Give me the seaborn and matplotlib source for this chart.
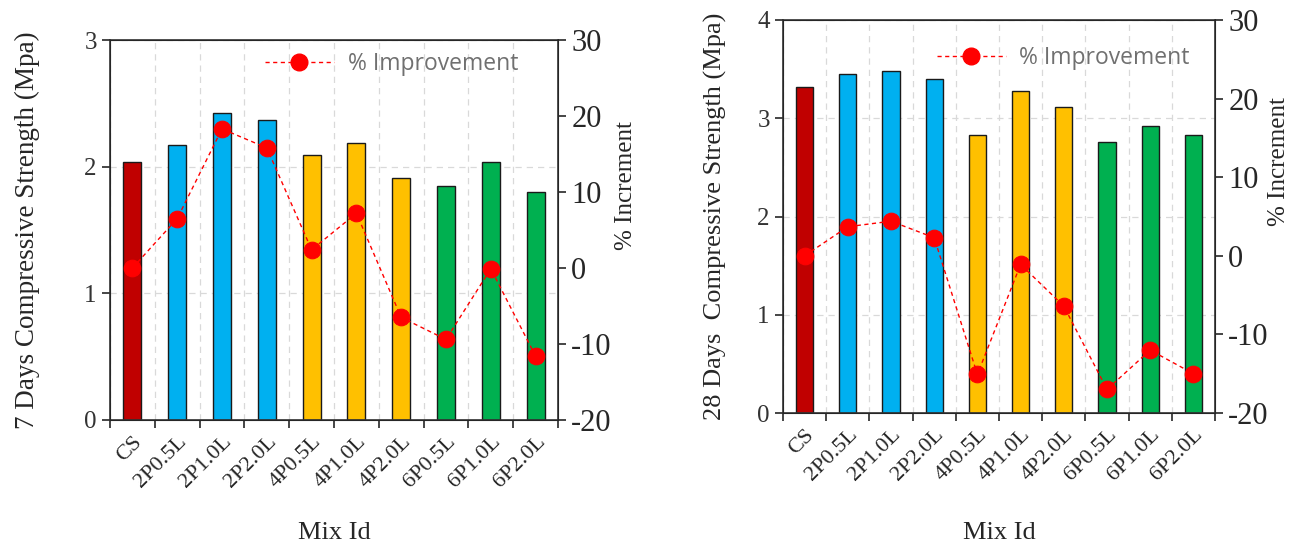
import numpy as np
import pandas as pd
import matplotlib
matplotlib.use('Agg')
import matplotlib.pyplot as plt
from matplotlib.lines import Line2D
import seaborn as sns

# datos
mix_id = ['CS', '2P0.5L', '2P1.0L', '2P2.0L', '4P0.5L', '4P1.0L', '4P2.0L',
          '6P0.5L', '6P1.0L', '6P2.0L']
grupo = ['CS', '2P', '2P', '2P', '4P', '4P', '4P', '6P', '6P', '6P']
strength_7d = [2.04, 2.17, 2.42, 2.37, 2.09, 2.19, 1.91, 1.85, 2.04, 1.80]
improve_7d = [0.0, 6.5, 18.3, 15.8, 2.4, 7.2, -6.5, -9.4, -0.1, -11.6]
strength_28d = [3.32, 3.45, 3.48, 3.40, 2.83, 3.28, 3.11, 2.76, 2.92, 2.83]
improve_28d = [0.0, 3.7, 4.4, 2.3, -15.1, -1.1, -6.4, -17.0, -12.0, -15.0]

colores = {'CS': '#C00000', '2P': '#00B0F0', '4P': '#FFC000', '6P': '#00B050'}

sns.set_style('white')
plt.rcParams['font.family'] = ['Liberation Serif', 'DejaVu Serif']
plt.rcParams['axes.unicode_minus'] = False

fig = plt.figure(figsize=(13.09, 5.44), dpi=100)
W, H = 1309, 544


def panel(rect, fuerza, mejora, ymax, ylabel, ylab_size, ylab_pad, xlab_pad, leg_xy, lab2_xy):
    ax = fig.add_axes(rect)
    df = pd.DataFrame({'mix': mix_id, 'grupo': grupo, 'fuerza': fuerza})
    sns.barplot(data=df, x='mix', y='fuerza', hue='grupo', palette=colores,
                dodge=False, width=0.4, saturation=1, edgecolor='#1a1a1a',
                linewidth=1.0, legend=False, ax=ax)
    n = len(mix_id)
    ax.set_xlim(-0.5, n - 0.5)
    ax.set_ylim(0, ymax)
    ax.set_yticks(range(0, ymax + 1))
    ax.set_xticks(np.arange(-0.5, n, 1.0), minor=True)
    ax.set_xticklabels(mix_id, rotation=45, ha='right', rotation_mode='anchor')
    ax.tick_params(axis='x', which='major', length=0, labelsize=16, pad=9)
    ax.tick_params(axis='x', which='minor', length=6, width=1.2, direction='out', bottom=True)
    ax.tick_params(axis='y', length=6, width=1.2, direction='out', left=True,
                   labelsize=18, labelcolor='#333333')
    ax.grid(axis='y', which='major', linestyle=(0, (5, 4)), color='#d9d9d9', linewidth=0.9)
    ax.grid(axis='x', which='minor', linestyle=(0, (5, 4)), color='#d9d9d9', linewidth=0.9)
    ax.set_axisbelow(True)
    ax.set_xlabel('Mix Id', fontsize=19, labelpad=xlab_pad)
    ax.set_ylabel(ylabel, fontsize=ylab_size, labelpad=ylab_pad)
    for s in ax.spines.values():
        s.set_color('#333333')
        s.set_linewidth(1.2)

    ax2 = ax.twinx()
    sns.lineplot(x=list(range(n)), y=mejora, sort=False, color='#FF0000',
                 linestyle=(0, (3, 2.5)), linewidth=1.0, marker='o',
                 markersize=12, markeredgecolor='#FF0000', ax=ax2)
    ax2.set_ylim(-20, 30)
    ax2.set_yticks(range(-20, 31, 10))
    ax2.tick_params(axis='y', length=6, width=1.2, direction='out', right=True, labelsize=22)
    ax2.set_ylabel('% Increment', fontsize=18, rotation=90)
    ax2.yaxis.set_label_coords(*lab2_xy)
    ax2.set_xlim(-0.5, n - 0.5)
    h = Line2D([], [], color='#FF0000', linestyle=(0, (3, 2.5)), linewidth=1.0,
               marker='o', markersize=12)
    leg = ax2.legend([h], ['% Improvement'], loc='center left', frameon=False,
                     bbox_to_anchor=leg_xy, handlelength=3.0, handletextpad=0.6,
                     borderpad=0, borderaxespad=0,
                     prop={'family': 'Open Sans', 'size': 16.5})
    for t in leg.get_texts():
        t.set_color('#707070')
    return ax, ax2


panel([110 / W, 1 - 420 / H, 448 / W, 380 / H], strength_7d, improve_7d, 3,
      '7 Days Compressive Strength (Mpa)', 19.5, 32, 22, (0.346, 0.937), (1.127, 0.616))
panel([783 / W, 1 - 413 / H, 432 / W, 393 / H], strength_28d, improve_28d, 4,
      '28 Days  Compressive Strength (Mpa)', 19, 22, 27, (0.356, 0.903), (1.123, 0.639))

fig.savefig('out.png', dpi=100)
